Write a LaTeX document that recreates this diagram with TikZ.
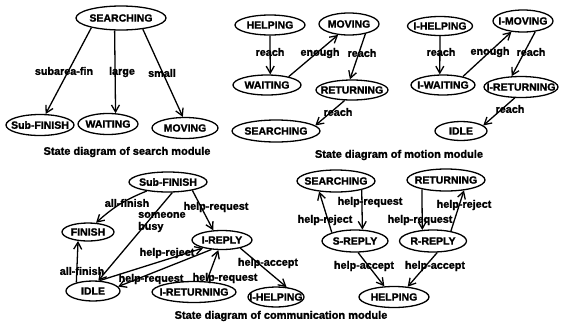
\documentclass[tikz,border=0pt]{standalone}
\usepackage{fontspec}
\setmainfont{Liberation Sans}[BoldFeatures={FakeBold=1.5}]
\usetikzlibrary{shapes.geometric,arrows.meta}
\begin{document}
\begin{tikzpicture}[x=1pt,y=-1pt,
  st/.style={ellipse,draw,line width=1.3pt,inner sep=0pt,font=\fontsize{10.5}{12}\selectfont\bfseries},
  ed/.style={line width=1.3pt,-{Straight Barb[length=7pt,width=8pt]}},
  lb/.style={inner sep=0pt,font=\fontsize{10.8}{12}\selectfont\bfseries},
  captxt/.style={inner sep=0pt,font=\fontsize{11}{12}\selectfont\bfseries}]
\useasboundingbox (0,0) rectangle (562,330);
% ---------- search module
\node[st,minimum width=90pt,minimum height=24pt] (s1) at (121,18) {\makebox[0pt]{SEARCHING}};
\node[st,minimum width=68pt,minimum height=21pt] (s2) at (40,125) {\makebox[0pt]{Sub-FINISH}};
\node[st,minimum width=60pt,minimum height=21pt] (s3) at (108,124) {\makebox[0pt]{WAITING}};
\node[st,minimum width=66pt,minimum height=21pt] (s4) at (185,128) {\makebox[0pt]{MOVING}};
\draw[ed] (s1.198) -- (s2.63);
\draw[ed] (s1.243) -- (s3.55);
\draw[ed] (s1.333) -- (s4.101);
\node[lb] (ls1) at (64,71) {subarea-fin};
\node[lb] (ls2) at (122,72) {large};
\node[lb] (ls3) at (162,73) {small};
\node[captxt] (cs) at (127,152) {State diagram of search module};
% ---------- motion module (left)
\node[st,minimum width=70pt,minimum height=20pt] (m1) at (270,25) {\makebox[0pt]{HELPING}};
\node[st,minimum width=60pt,minimum height=22pt] (m2) at (349,24) {\makebox[0pt]{MOVING}};
\node[st,minimum width=68pt,minimum height=20pt] (m3) at (267,85) {\makebox[0pt]{WAITING}};
\node[st,minimum width=72pt,minimum height=20pt] (m4) at (352,90) {\makebox[0pt]{RETURNING}};
\node[st,minimum width=88pt,minimum height=22pt] (m5) at (276,131) {\makebox[0pt]{SEARCHING}};
\draw[ed] (m1.south) -- (m3.73);
\draw[ed] (m3.21) -- (m2.225);
\draw[ed] (m2.329) -- (m4.101);
\draw[ed] (m4.235) -- (m5.8);
\node[lb] (lm1) at (270,52) {reach};
\node[lb] (lm2) at (320,53) {enough};
\node[lb] (lm3) at (362,53) {reach};
\node[lb] (lm4) at (338,112) {reach};
% ---------- motion module (right)
\node[st,minimum width=65pt,minimum height=19pt] (n1) at (440,26) {\makebox[0pt]{I-HELPING}};
\node[st,minimum width=60pt,minimum height=22pt] (n2) at (523,21) {\makebox[0pt]{I-MOVING}};
\node[st,minimum width=64pt,minimum height=20pt] (n3) at (443,85) {\makebox[0pt]{I-WAITING}};
\node[st,minimum width=74pt,minimum height=21pt] (n4) at (521,87) {\makebox[0pt]{I-RETURNING}};
\node[st,minimum width=52pt,minimum height=19pt] (n5) at (461,131) {\makebox[0pt]{IDLE}};
\draw[ed] (n1.south) -- (n3.107);
\draw[ed] (n3.23) -- (n2.223);
\draw[ed] (n2.319) -- (n4.131);
\draw[ed] (n4.240) -- (n5.14);
\node[lb] (ln1) at (441,52) {reach};
\node[lb] (ln2) at (490,52) {enough};
\node[lb] (ln3) at (531,52) {reach};
\node[lb] (ln4) at (510,109) {reach};
\node[captxt] (cm) at (399,155) {State diagram of motion module};
% ---------- communication module (left)
\node[st,minimum width=78pt,minimum height=20pt] (c1) at (168,182) {\makebox[0pt]{Sub-FINISH}};
\node[st,minimum width=52pt,minimum height=18pt] (c2) at (88,232) {\makebox[0pt]{FINISH}};
\node[st,minimum width=60pt,minimum height=19pt] (c3) at (222,240) {\makebox[0pt]{I-REPLY}};
\node[st,minimum width=54pt,minimum height=20pt] (c4) at (93,291) {\makebox[0pt]{IDLE}};
\node[st,minimum width=84pt,minimum height=21pt] (c5) at (194,292) {\makebox[0pt]{I-RETURNING}};
\node[st,minimum width=56pt,minimum height=20pt] (c6) at (276,297) {\makebox[0pt]{I-HELPING}};
\draw[ed] (c1.203) to[bend right=10] (c2.49);
\draw[ed] (c1.292) -- (c4.63);
\draw[ed] (c1.341) -- (c3.132);
\draw[ed] (c4.153) -- (c2.222);
\draw[ed] (c4.58) -- (c3.203);
\draw[ed] (c3.222) -- (c4.10);
\draw[ed] (c5.40) -- (c3.250);
\draw[ed] (c3.336) -- (c6.43);
\node[lb] (lc1) at (127,203) {all-finish};
\node[lb,anchor=west,align=left] (lc2) at (138,222) {someone\\busy};
\node[lb] (lc3) at (216,207) {help-request};
\node[lb] (lc4) at (82,271) {all-finish};
\node[lb] (lc5) at (167,253) {help-reject};
\node[lb] (lc6) at (151,279) {help-request};
\node[lb] (lc7) at (225,278) {help-request};
\node[lb] (lc8) at (268,263) {help-accept};
\node[captxt] (cc) at (281,316) {State diagram of communication module};
% ---------- communication module (right)
\node[st,minimum width=78pt,minimum height=22pt] (d1) at (336,181) {\makebox[0pt]{SEARCHING}};
\node[st,minimum width=78pt,minimum height=22pt] (d2) at (446,180) {\makebox[0pt]{RETURNING}};
\node[st,minimum width=66pt,minimum height=22pt] (d3) at (355,241) {\makebox[0pt]{S-REPLY}};
\node[st,minimum width=67pt,minimum height=22pt] (d4) at (433,241) {\makebox[0pt]{R-REPLY}};
\node[st,minimum width=70pt,minimum height=21pt] (d5) at (394,297) {\makebox[0pt]{HELPING}};
\draw[ed] (d1.341) -- (d3.57);
\draw[ed] (d3.160) -- (d1.212);
\draw[ed] (d2.201) -- (d4.134);
\draw[ed] (d4.29) -- (d2.330);
\draw[ed] (d3.285) -- (d5.132);
\draw[ed] (d4.290) -- (d5.37);
\node[lb] (ld1) at (370,202) {help-request};
\node[lb] (ld2) at (325,220) {help-reject};
\node[lb] (ld3) at (420,220) {help-request};
\node[lb] (ld4) at (464,205) {help-reject};
\node[lb] (ld5) at (364,266) {help-accept};
\node[lb] (ld6) at (435,266) {help-accept};
\end{tikzpicture}
\end{document}
